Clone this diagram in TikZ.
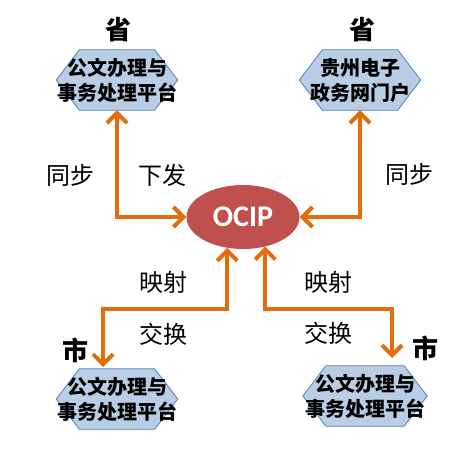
\documentclass[tikz,border=0pt]{standalone}
\usepackage{fontspec}
\usetikzlibrary{shapes.geometric,arrows.meta,calc,backgrounds}
\newfontfamily\cjk{Noto Sans CJK SC}
\newfontfamily\ocipfont{Carlito}
\definecolor{arrorange}{HTML}{E46C0A}
\definecolor{ocipred}{HTML}{C0504D}
\definecolor{hexfill}{HTML}{B9CDE5}
\definecolor{hexline}{HTML}{4F81BD}
\newcommand\hexoutline[1]{%
  \path[hexshape] (#1.west) -- ([xshift=23pt]#1.north west) -- ([xshift=-23pt]#1.north east)
    -- (#1.east) -- ([xshift=-23pt]#1.south east) -- ([xshift=23pt]#1.south west) -- cycle;}
\begin{document}
\begin{tikzpicture}[x=1pt,y=-1pt,
  hexbox/.style={rectangle, minimum width=121pt, minimum height=60pt, inner sep=0pt, align=center,
    font=\cjk\bfseries\fontsize{20}{25}\selectfont},
  hexshape/.style={fill=hexfill, draw=hexline, line width=0.8pt, line join=miter},
  lvl/.style={font=\cjk\bfseries\fontsize{26}{26}\selectfont, inner sep=0pt},
  lbl/.style={font=\cjk\fontsize{24}{24}\selectfont, inner sep=0pt},
  link/.style={draw=arrorange, line width=4pt,
    {Straight Barb[length=10pt,width=20pt]}-{Straight Barb[length=10pt,width=20pt]}}]
\useasboundingbox (0,0) rectangle (474,449);

\node[hexbox] (tl) at (117,80) {公文办理与\\事务处理平台};
\node[hexbox] (tr) at (360,80) {贵州电子\\政务网门户};
\node[hexbox] (bl) at (117,399) {公文办理与\\事务处理平台};
\node[hexbox, minimum width=124pt] (br) at (365,396) {公文办理与\\事务处理平台};

\begin{scope}[on background layer]
  \fill[white] (0,0) rectangle (474,449);
  \hexoutline{tl}
  \hexoutline{tr}
  \hexoutline{bl}
  \hexoutline{br}
\end{scope}

\node[ellipse, fill=ocipred, minimum width=113pt, minimum height=64pt, inner sep=0pt,
  font=\ocipfont\bfseries\fontsize{30}{30}\selectfont, text=white] (ocip) at (243,217) {OCIP};

\node[lvl] (p1) at (118,30) {省};
\node[lvl] (p2) at (362,30) {省};
\node[lvl] (c1) at (75,350) {市};
\node[lvl] (c2) at (425,348) {市};

\node[lbl] (s1) at (70,175) {同步};
\node[lbl] (x1) at (162,175) {下发};
\node[lbl] (s2) at (409,174) {同步};
\node[lbl] (m1) at (163,282) {映射};
\node[lbl] (j1) at (163,334) {交换};
\node[lbl] (m2) at (328,282) {映射};
\node[lbl] (j2) at (328,333) {交换};

\coordinate (ymid) at (0,309);
\coordinate (blend) at (103,367);
\coordinate (brend) at (392,358);

\draw[link] (tl) |- (ocip);
\draw[link] (tr) |- (ocip);
\draw[link] (ocip.243) |- (ymid -| blend) -- (blend);
\draw[link] (ocip.307) |- (ymid -| brend) -- (brend);
\end{tikzpicture}
\end{document}
